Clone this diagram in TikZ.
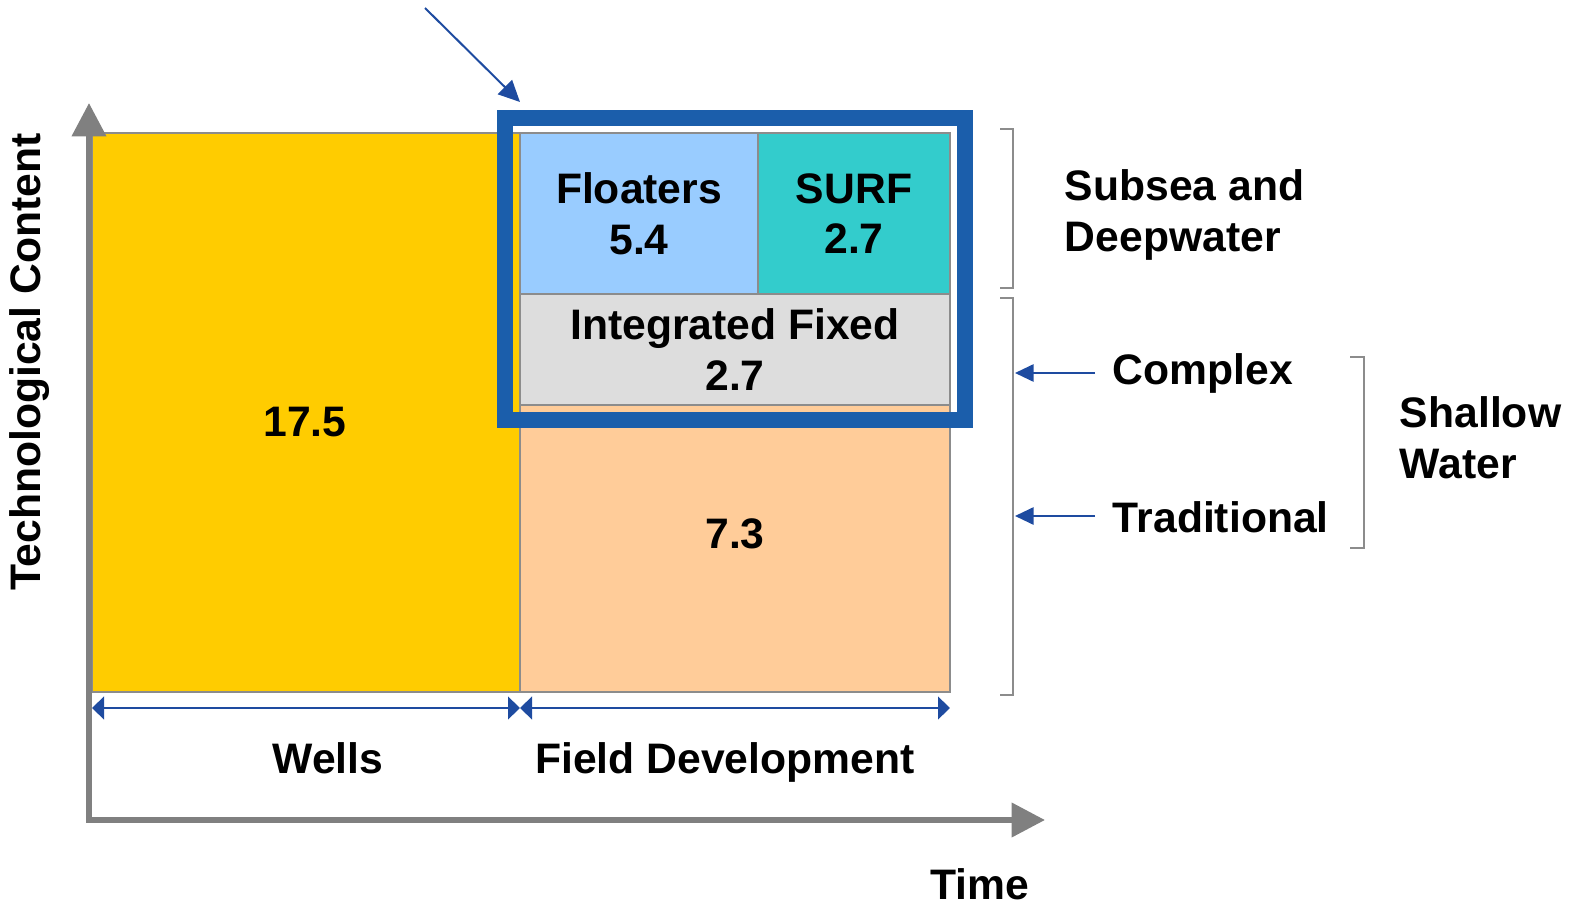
\documentclass[tikz,border=0pt]{standalone}
\usepackage{fontspec}
\setmainfont{Liberation Sans}
\usetikzlibrary{arrows.meta}

\definecolor{wellsyellow}{RGB}{255,204,0}
\definecolor{tradorange}{RGB}{255,204,153}
\definecolor{floatblue}{RGB}{153,204,255}
\definecolor{surfteal}{RGB}{51,204,204}
\definecolor{fixedgray}{RGB}{221,221,221}
\definecolor{edgegray}{RGB}{140,140,140}
\definecolor{axisgray}{RGB}{128,128,128}
\definecolor{frameblue}{RGB}{27,94,171}
\definecolor{arrowblue}{RGB}{30,75,160}

\tikzset{every picture/.style={line width=0.75pt}}

\begin{document}
\begin{tikzpicture}[x=0.75pt,y=0.75pt,yscale=-1,xscale=1,
  txt/.style={font=\fontsize{32}{38}\selectfont\bfseries, align=center},
  box/.style={draw=edgegray, line width=1.2pt, inner sep=0pt, outer sep=0pt, anchor=north west, txt},
  bracket/.style={draw=edgegray, line width=1.5pt},
  dimline/.style={draw=arrowblue, line width=1.5pt, {Triangle[length=9pt,width=17pt]}-{Triangle[length=9pt,width=17pt]}},
  pointer/.style={draw=arrowblue, line width=1.5pt, -{Triangle[length=16pt,width=15pt]}}]
\useasboundingbox (0,0) rectangle (1574,905);

%Shape: Rectangle [wells]
\node [box, fill=wellsyellow, minimum width=321pt, minimum height=419.25pt] (wells) at (92,133) {};
%Shape: Rectangle [traditional]
\node [box, fill=tradorange, minimum width=322.5pt, minimum height=215.25pt] (trad) at (520,405) {};
%Shape: Rectangle [integrated fixed]
\node [box, fill=fixedgray, minimum width=322.5pt, minimum height=83.25pt] (fixed) at (520,294) {Integrated Fixed\\2.7};
%Shape: Rectangle [floaters]
\node [box, fill=floatblue, minimum width=178.5pt, minimum height=120.75pt] (floaters) at (520,133) {Floaters\\5.4};
%Shape: Rectangle [surf]
\node [box, fill=surfteal, minimum width=144pt, minimum height=120.75pt] (surf) at (758,133) {SURF\\2.7};

% Text Node
\node [txt] (wellsval) at (305,422) {17.5};
% Text Node
\node [txt] (tradval) at (735,534) {7.3};

%Shape: Rectangle [highlight frame]
\node [draw=frameblue, line width=12pt, minimum width=345pt, minimum height=226.5pt, inner sep=0pt] (focus) at (735,269) {};

%Straight Lines [pointer to frame]
\coordinate (ptail) at (425,8);
\coordinate (phead) at (520,102);
\draw [pointer] (ptail) -- (phead);

%Axes
\coordinate (origin) at (89,820);
\coordinate (ytip) at (89,103);
\coordinate (xtip) at (1045,820);
\draw [axisgray, line width=4.5pt, {Triangle[length=25pt,width=25pt]}-{Triangle[length=25pt,width=25pt]}] (ytip) -- (origin) -- (xtip);

%Straight Lines [spans]
\coordinate (wl) at (92,708);
\coordinate (wr) at (520,708);
\coordinate (fr) at (950,708);
\draw [dimline] (wl) -- (wr);
\draw [dimline] (wr) -- (fr);

%Brackets
\draw [bracket] (1000,129) -- (1013,129) -- (1013,288) -- (1000,288);
\draw [bracket] (1000,298) -- (1013,298) -- (1013,695) -- (1000,695);
\draw [bracket] (1350,357) -- (1364,357) -- (1364,548) -- (1350,548);

% Text Node
\node [txt, anchor=west, align=left] (subsea) at (1060,215) {Subsea and\\Deepwater};
% Text Node
\node [txt, anchor=west] (complex) at (1108,373) {Complex};
% Text Node
\node [txt, anchor=west] (traditional) at (1108,517) {Traditional};
% Text Node
\node [txt, anchor=west, align=left] (shallow) at (1395,438) {Shallow\\Water};

%Straight Lines [level arrows]
\coordinate (cx) at (1015,373);
\coordinate (tx) at (1015,516);
\coordinate (cs) at (1095,373);
\coordinate (ts) at (1095,516);
\draw [draw=arrowblue, line width=1.5pt, -{Triangle[length=14pt,width=13pt]}] (cs) -- (cx);
\draw [draw=arrowblue, line width=1.5pt, -{Triangle[length=14pt,width=13pt]}] (ts) -- (tx);

% Text Node
\node [txt, anchor=base] (wellslbl) at (328,773) {Wells};
% Text Node
\node [txt, anchor=base] (fieldlbl) at (725,773) {Field Development};
% Text Node
\node [txt, anchor=base] (timelbl) at (980,899) {Time};
% Text Node
\node [txt, rotate=90] (techlbl) at (30,362) {Technological Content};

\end{tikzpicture}
\end{document}
